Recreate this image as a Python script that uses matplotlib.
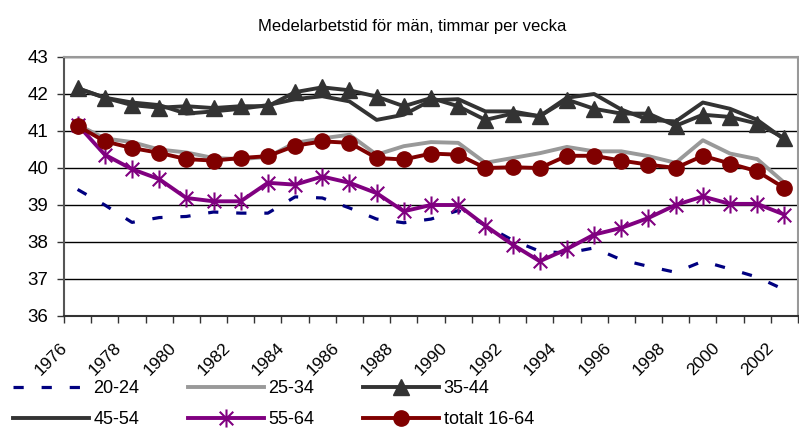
import numpy as np
import matplotlib.pyplot as plt
from matplotlib.path import Path

plt.rcParams['font.family'] = ['Liberation Sans', 'DejaVu Sans']

years = list(range(1976, 2003))

# timmar per vecka
v20_24 = [39.42, 39.0, 38.53, 38.66, 38.69, 38.81, 38.78, 38.78, 39.22, 39.19,
          38.92, 38.62, 38.52, 38.62, 38.85, 38.45, 38.05, 37.75, 37.7, 37.84,
          37.52, 37.34, 37.18, 37.48, 37.27, 37.05, 36.71]
v25_34 = [41.17, 40.8, 40.7, 40.5, 40.42, 40.27, 40.24, 40.3, 40.68, 40.8,
          40.9, 40.36, 40.59, 40.7, 40.68, 40.14, 40.27, 40.4, 40.57, 40.45,
          40.45, 40.32, 40.14, 40.75, 40.39, 40.24, 39.6]
v35_44 = [42.15, 41.9, 41.7, 41.63, 41.67, 41.62, 41.67, 41.67, 42.05, 42.18,
          42.1, 41.93, 41.67, 41.89, 41.67, 41.3, 41.47, 41.4, 41.85, 41.6,
          41.47, 41.47, 41.14, 41.44, 41.38, 41.2, 40.81]
v45_54 = [42.16, 41.9, 41.77, 41.7, 41.47, 41.53, 41.6, 41.7, 41.86, 41.94,
          41.8, 41.3, 41.44, 41.83, 41.86, 41.53, 41.53, 41.4, 41.9, 42.0,
          41.58, 41.3, 41.26, 41.77, 41.6, 41.3, 40.77]
v55_64 = [41.17, 40.36, 39.97, 39.7, 39.19, 39.1, 39.1, 39.6, 39.55, 39.77,
          39.6, 39.32, 38.83, 39.0, 39.0, 38.44, 37.93, 37.48, 37.81, 38.2,
          38.38, 38.65, 39.0, 39.23, 39.03, 39.03, 38.74]
vtotalt = [41.14, 40.72, 40.54, 40.41, 40.24, 40.2, 40.27, 40.32, 40.6, 40.72,
           40.68, 40.27, 40.23, 40.39, 40.36, 40.0, 40.02, 40.0, 40.33, 40.33,
           40.2, 40.09, 40.0, 40.33, 40.12, 39.91, 39.46]

x = np.arange(len(years))

# asterisk like Excel: X plus a vertical bar
star = Path([(0, -1), (0, 1), (-0.75, -0.75), (0.75, 0.75), (-0.75, 0.75), (0.75, -0.75)],
            [Path.MOVETO, Path.LINETO, Path.MOVETO, Path.LINETO, Path.MOVETO, Path.LINETO])

fig = plt.figure(figsize=(7.99, 4.30), dpi=100)
W, H = 799, 430
ax = fig.add_axes([64 / W, 1 - 316 / H, 734 / W, 259 / H])

ax.plot(x, v20_24, color='#000080', lw=2.3, dashes=(3.2, 5.6), dash_capstyle='butt', label='20-24')
ax.plot(x, v25_34, color='#999999', lw=2.8, label='25-34')
ax.plot(x, v35_44, color='#333333', lw=2.8, marker='^', ms=11, label='35-44')
ax.plot(x, v45_54, color='#333333', lw=2.8, label='45-54')
ax.plot(x, v55_64, color='#800080', lw=2.8, marker=star, ms=13, mew=1.5,
        mfc='none', mec='#800080', label='55-64')
ax.plot(x, vtotalt, color='#800000', lw=2.8, marker='o', ms=11, label='totalt 16-64')

ax.set_xlim(-0.5, len(years) - 0.5)
ax.set_ylim(36, 43)
ax.set_yticks(range(36, 44))
ax.yaxis.grid(True, color='black', lw=1)
ax.set_axisbelow(True)
ax.tick_params(axis='y', direction='out', length=5, width=1, color='#333333', pad=6.5, labelsize=13.5)

ax.set_xticks(np.arange(-0.5, len(years)))
ax.set_xticklabels([])
ax.tick_params(axis='x', direction='out', length=5, width=1, color='#333333')

for i, yr in enumerate(years):
    if yr % 2 == 0:
        ax.annotate(str(yr), xy=(i, 0), xycoords=('data', 'axes fraction'),
                    xytext=(-7.5, -24), textcoords='offset pixels',
                    ha='right', va='top', rotation=45, fontsize=12.5)

for s in ['top', 'right']:
    ax.spines[s].set_color('#999999')
    ax.spines[s].set_linewidth(1.5)
ax.spines['left'].set_color('#555555')
ax.spines['left'].set_linewidth(1.5)
ax.spines['bottom'].set_color('#333333')
ax.spines['bottom'].set_linewidth(1.5)

fig.text(412 / W, 1 - 27 / H, 'Medelarbetstid för män, timmar per vecka',
         ha='center', va='center', fontsize=12)

# legend filled row by row, like Excel
handles, labels = ax.get_legend_handles_labels()
order = [0, 3, 1, 4, 2, 5]
fig.legend([handles[k] for k in order], [labels[k] for k in order],
           loc='upper left', bbox_to_anchor=(13 / W, 1 - 380 / H), ncol=3, frameon=False,
           fontsize=13, handlelength=4.2, handletextpad=0.25, columnspacing=2.7,
           labelspacing=0.8, borderpad=0, borderaxespad=0, numpoints=1)

fig.savefig('out.png', dpi=100)
